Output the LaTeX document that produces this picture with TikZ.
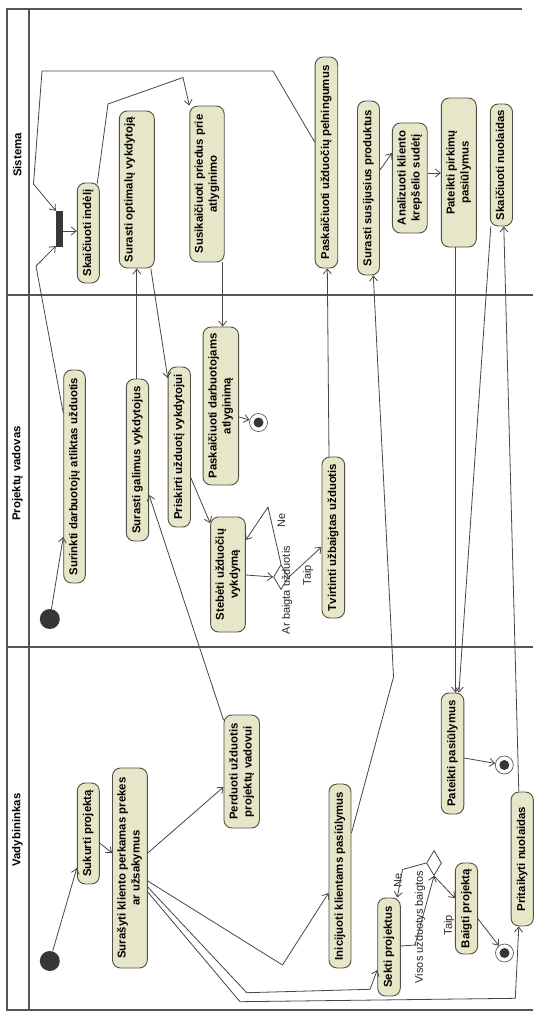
\documentclass[tikz,border=0pt]{standalone}
\usepackage{fontspec}
\setmainfont{Liberation Sans}
\usepackage{graphicx}
\usetikzlibrary{arrows.meta,shapes.geometric,calc}
\definecolor{actfill}{RGB}{232,230,200}
\definecolor{actdraw}{RGB}{80,80,70}
\definecolor{lanecol}{RGB}{85,85,85}
\definecolor{edgecol}{RGB}{70,70,70}
\definecolor{dotcol}{RGB}{55,55,55}
\newcommand{\rt}[1]{\rotatebox{90}{\begin{tabular}{@{}c@{}}#1\end{tabular}}}
\begin{document}
\begin{tikzpicture}[x=1pt,y=-1pt,
  act/.style={draw=actdraw, fill=actfill, line width=0.9pt, rounded corners=8pt, inner sep=0pt,
    font=\fontsize{11.4}{14}\selectfont\bfseries},
  lane/.style={draw=lanecol, line width=2pt},
  lanelbl/.style={rotate=90, font=\fontsize{11.4}{14}\selectfont\bfseries, inner sep=0pt},
  lbl/.style={rotate=90, font=\fontsize{11}{13}\selectfont, text=black!85, inner sep=0pt},
  flow/.style={draw=edgecol, line width=0.8pt, line join=round, -{Straight Barb[length=5pt,width=8pt]}},
  initst/.style={circle, fill=dotcol, minimum size=20pt, inner sep=0pt},
  finst/.style={circle, draw=edgecol, fill=white, line width=0.6pt, minimum size=18pt, inner sep=0pt},
  decst/.style={diamond, draw=edgecol, fill=white, line width=0.8pt, minimum width=15pt, minimum height=25pt, inner sep=0pt},
  forkst/.style={fill=dotcol, minimum width=7pt, minimum height=36pt, inner sep=0pt}
]
\fill[white] (0,0) rectangle (546,1021);
\useasboundingbox (0,0) rectangle (546,1021);

% swimlane frame
\draw[lane] (522,9) -- (7.3,9) -- (7.3,1010) -- (533,1010);
\draw[lane] (29,9) -- (29,1010);
\draw[lane] (7.3,295) -- (533,295);
\draw[lane] (7.3,646.5) -- (533,646.5);
\node[lanelbl] (lsis) at (17.4,155) {Sistema};
\node[lanelbl] (lpv) at (17.4,473.5) {Projektų vadovas};
\node[lanelbl] (lvad) at (17.4,830) {Vadybininkas};

% Sistema
\node[forkst] (fork) at (59.5,229) {};
\node[act, minimum width=22pt, minimum height=100pt] (indeli) at (88.3,233) {\rt{Skaičiuoti indėlį}};
\node[act, minimum width=35pt, minimum height=157pt] (optimalu) at (136.8,189.5) {\rt{Surasti optimalų vykdytoją\\\mbox{}}};
\node[act, minimum width=34.4pt, minimum height=156pt] (priedus) at (207,184) {\rt{Susikaičiuoti priedus prie\\atlyginimo}};
\node[act, minimum width=22.6pt, minimum height=211pt] (pelningumus) at (326.4,162.5) {\rt{Paskaičiuoti užduočių pelningumus}};
\node[act, minimum width=22pt, minimum height=174pt] (susijusius) at (368.5,188) {\rt{Surasti susijusius produktus}};
\node[act, minimum width=34.8pt, minimum height=110pt] (analizuoti) at (409.8,178) {\rt{Analizuoti kliento\\krepšelio sudėtį}};
\node[act, minimum width=35pt, minimum height=149pt] (pirkimu) at (458.8,172.5) {\rt{Pateikti pirkimų\\pasiūlymus}};
\node[act, minimum width=22.2pt, minimum height=122pt] (nuolaidas) at (501.4,165) {\rt{Skaičiuoti nuolaidas}};

% Projektu vadovas
\node[initst] (init1) at (49.8,619) {};
\node[act, minimum width=21.6pt, minimum height=213pt] (surinkti) at (74.5,476.5) {\rt{Surinkti darbuotojų atliktas užduotis}};
\node[act, minimum width=22.3pt, minimum height=162pt] (galimus) at (137.5,460) {\rt{Surasti galimus vykdytojus}};
\node[act, minimum width=22.3pt, minimum height=160pt] (priskirti) at (179.3,447) {\rt{Priskirti užduotį vykdytojui}};
\node[act, minimum width=35.5pt, minimum height=158pt] (atlyginima) at (220.8,406) {\rt{Paskaičiuoti darbuotojams\\atlyginimą}};
\node[finst] (fin1) at (258.5,422.5) {};
\fill[dotcol] (fin1.center) circle (5pt);
\node[act, minimum width=34.8pt, minimum height=115pt] (stebeti) at (228,574.5) {\rt{Stebėti užduočių\\vykdymą}};
\node[decst] (dec1) at (281,577) {};
\node[act, minimum width=22.7pt, minimum height=161pt] (tvirtinti) at (333.3,537.5) {\rt{Tvirtinti užbaigtas užduotis}};
\node[lbl] (lne1) at (281.3,520) {Ne};
\node[lbl] (ltaip1) at (308,575) {Taip};
\node[lbl] (lar) at (287,590) {Ar baigta užduotis};

% Vadybininkas
\node[initst] (init2) at (49.8,961) {};
\node[act, minimum width=22pt, minimum height=101pt] (sukurti) at (88.3,833.5) {\rt{Sukurti projektą}};
\node[act, minimum width=34.8pt, minimum height=200pt] (surasyti) at (129.9,868) {\rt{Surašyti kliento perkamas prekes\\ar užsakymus}};
\node[act, minimum width=35.5pt, minimum height=113pt] (perduoti) at (241.7,771.5) {\rt{Perduoti užduotis\\projektų vadovui}};
\node[act, minimum width=22pt, minimum height=184pt] (inicijuoti) at (340,876) {\rt{Inicijuoti klientams pasiūlymus}};
\node[act, minimum width=22.6pt, minimum height=98pt] (sekti) at (389,947) {\rt{Sekti projektus}};
\node[decst] (dec2) at (434,863) {};
\node[act, minimum width=22.3pt, minimum height=91pt] (baigti) at (466.5,908.5) {\rt{Baigti projektą}};
\node[finst] (fin3) at (504.5,953) {};
\fill[dotcol] (fin3.center) circle (5pt);
\node[act, minimum width=22.6pt, minimum height=121pt] (pasiulymus) at (452.5,753.5) {\rt{Pateikti pasiūlymus}};
\node[finst] (fin2) at (504.3,765) {};
\fill[dotcol] (fin2.center) circle (5pt);
\node[act, minimum width=22.3pt, minimum height=134pt] (pritaikyti) at (522.2,859) {\rt{Pritaikyti nuolaidas}};
\node[lbl] (lne2) at (398,880) {Ne};
\node[lbl] (ltaip2) at (449,925) {Taip};
\node[lbl] (lvisos) at (420,927) {Visos užduotys baigtos};

% connectors
\draw[flow] (init1) -- (surinkti.west |- 0,537);
\draw[flow] (surinkti.west |- 0,413) -- (36,266) -- (fork.west |- 0,246);
\draw[flow] (pelningumus.west |- 0,142) -- (273,71) -- (42,71) -- (33.5,184) -- (fork.north west);
\draw[flow] (fork.east |- 0,231) -- (indeli.west |- 0,231);
\draw[flow] ($(indeli.north east)+(-2.5,1)$) -- (108,104) -- (183,77.5) -- (priedus.north west);
\draw[flow] (galimus.north -| 136.8,0) -- (optimalu.south -| 136.8,0);
\draw[flow] (optimalu.south -| 150.8,0) -- (priskirti.west |- 0,378);
\draw[flow] (priedus.south -| 222.7,0) -- (atlyginima.north -| 222.7,0);
\draw[flow] (atlyginima.east |- 0,417) -- (fin1);
\draw[flow] (priskirti.east |- 0,478) -- (stebeti.west |- 0,523);
\draw[flow] (stebeti.east |- 0,575) -- (dec1.west);
\draw[flow] (dec1.north) -- (268,507) -- (stebeti.east |- 0,540);
\draw[flow] (dec1.east) -- (tvirtinti.west |- 0,547);
\draw[flow] (tvirtinti.north -| 329,0) -- (pelningumus.south -| 327.3,0);
\draw[flow] (init2) -- (sukurti.west |- 0,868);
\draw[flow] (sukurti.east |- 0,843) -- (surasyti.west |- 0,853);
\draw[flow] (surasyti.east |- 0,853) -- (perduoti.west |- 0,787);
\draw[flow] (perduoti.west |- 0,720) -- (galimus.east |- 0,495);
\draw[flow] (surasyti.east |- 0,881) -- (282.5,965) -- (inicijuoti.west |- 0,893);
\draw[flow] (inicijuoti.east |- 0,833) -- (393.5,677) -- (susijusius.south -| 373.3,0);
\draw[flow] (susijusius.east |- 0,170) -- (analizuoti.west |- 0,153);
\draw[flow] (analizuoti.east |- 0,173) -- (pirkimu.west |- 0,173);
\draw[flow] (pirkimu.south -| 455.5,0) -- (pasiulymus.north -| 455.5,0);
\draw[flow] (nuolaidas.south -| 490.8,0) -- (pasiulymus.north -| 458.9,0);
\draw[flow] (pritaikyti.north -| 518.8,0) -- (nuolaidas.south -| 503.8,0);
\draw[flow] (pasiulymus.east |- 0,758) -- (fin2);
\draw[flow] (surasyti.east |- 0,887) -- (246.7,992.7) -- (370,989.3) -- (sekti.west |- 0,970);
\draw[flow] (surasyti.east |- 0,892) -- (240,1001.7) -- (515.3,998.3) -- (pritaikyti.south -| 518.8,0);
\draw[flow] (sekti.east |- 0,946) -- (415,945) -- (dec2.south);
\draw[flow] (dec2.west) -- (402.5,869.5) -- (sekti.north -| 397.3,0);
\draw[flow] (dec2.south) -- (baigti.west |- 0,898);
\draw[flow] (baigti.east |- 0,919) -- (fin3);
\end{tikzpicture}
\end{document}
